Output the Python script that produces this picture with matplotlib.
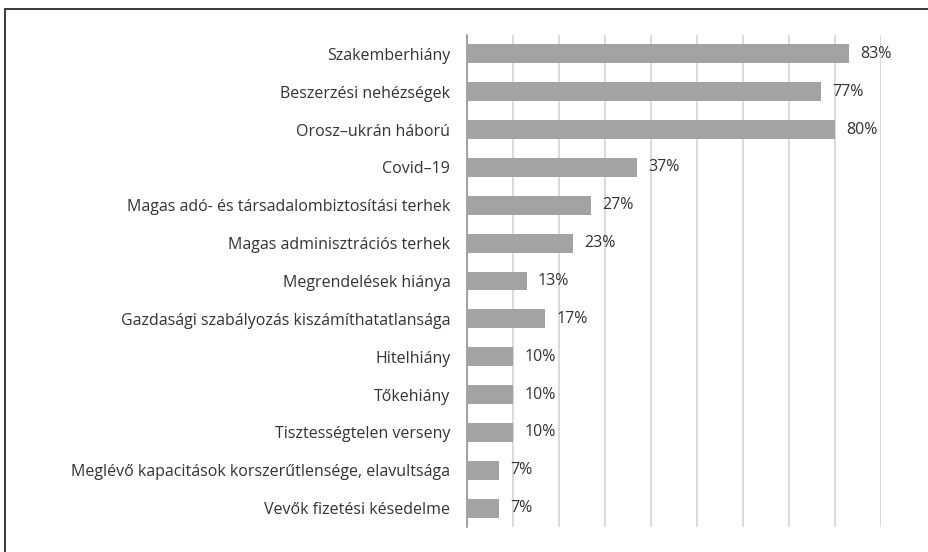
import matplotlib.pyplot as plt
from matplotlib.patches import Rectangle

# Categories top to bottom, values in percent
categories = [
    "Szakemberhiány",
    "Beszerzési nehézségek",
    "Orosz–ukrán háború",
    "Covid–19",
    "Magas adó- és társadalombiztosítási terhek",
    "Magas adminisztrációs terhek",
    "Megrendelések hiánya",
    "Gazdasági szabályozás kiszámíthatatlansága",
    "Hitelhiány",
    "Tőkehiány",
    "Tisztességtelen verseny",
    "Meglévő kapacitások korszerűtlensége, elavultsága",
    "Vevők fizetési késedelme",
]
values = [83, 77, 80, 37, 27, 23, 13, 17, 10, 10, 10, 7, 7]
value_labels = ["83%", "77%", "80%", "37%", "27%", "23%", "13%", "17%",
                "10%", "10%", "10%", "7%", "7%"]

W, H = 929, 552
fig = plt.figure(figsize=(W / 100, H / 100), dpi=100)
fig.patch.set_facecolor("white")

# axes placed in pixel terms of the reference
left, right, top, bottom = 467, 881, 35, 527
ax = fig.add_axes([left / W, 1 - bottom / H, (right - left) / W, (bottom - top) / H])
ax.set_facecolor("none")

text_color = "#333333"
bar_color = "#a3a3a5"
font = "Open Sans"

y = list(range(len(categories)))
ax.barh(y, values, height=0.5, color=bar_color, zorder=3)

for yi, v, lab in zip(y, values, value_labels):
    ax.annotate(lab, (v, yi), xytext=(8, 0), textcoords="offset points",
                va="center", ha="left", fontsize=11.5, color=text_color,
                family=font, zorder=4)

ax.set_xlim(0, 90)
ax.set_ylim(len(categories) - 0.5, -0.5)
ax.set_xticks(range(0, 91, 10))
ax.set_xticklabels([])
ax.tick_params(axis="x", length=0)
ax.grid(axis="x", color="#d0d0d0", linewidth=1.1, zorder=0)

ax.set_yticks(y)
ax.set_yticklabels(categories, fontsize=11.5, color=text_color, family=font)
ax.tick_params(axis="y", length=0, pad=12)

for side in ["top", "right", "bottom"]:
    ax.spines[side].set_visible(False)
ax.spines["left"].set_color("#8c8c8c")
ax.spines["left"].set_linewidth(1.1)

# outer frame around the figure, running past right and bottom edges
frame = Rectangle((5 / W, -0.05), 1.1, 1 - 9 / H + 0.05,
                  transform=fig.transFigure, fill=False,
                  edgecolor="#2b2b2b", linewidth=1.3, clip_on=False)
fig.patches.append(frame)

fig.savefig("out.png", dpi=100)
